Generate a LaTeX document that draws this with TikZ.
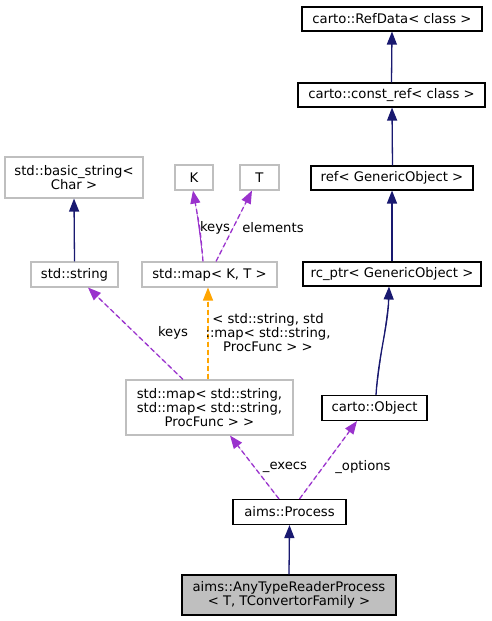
\documentclass[tikz,border=0pt]{standalone}
\usepackage{fontspec}
\setmainfont{DejaVu Sans}
\usetikzlibrary{arrows.meta}
\definecolor{navyedge}{HTML}{191970}
\definecolor{purpleedge}{HTML}{9A32CD}
\definecolor{orangeedge}{HTML}{FFA500}
\definecolor{greyborder}{HTML}{BFBFBF}
\definecolor{hlfill}{HTML}{BFBFBF}
\begin{document}
\begin{tikzpicture}[x=1pt,y=-1pt,
  font=\fontsize{13.2}{14}\selectfont,
  box/.style={draw=black,line width=1.1pt,fill=white,inner sep=0pt,align=center},
  greybox/.style={draw=greyborder,line width=1.1pt,fill=white,inner sep=0pt,align=center},
  hlbox/.style={draw=black,line width=1.1pt,fill=hlfill,inner sep=0pt,align=center},
  tip/.style={-{Triangle[length=13pt,width=10pt]}},
  inherit/.style={draw=navyedge,line width=1.3pt,tip,fill=navyedge},
  usage/.style={draw=purpleedge,line width=1.3pt,dash pattern=on 5pt off 3pt,tip,fill=purpleedge},
  templ/.style={draw=orangeedge,line width=1.3pt,dash pattern=on 5pt off 3pt,tip,fill=orangeedge},
  lbl/.style={inner sep=0pt,align=center}]
\useasboundingbox (0,0) rectangle (491,621);
\fill[white] (0,0) rectangle (491,621);

\node[box,minimum width=180pt,minimum height=24pt] (refdata) at (392,19) {carto::RefData< class >};
\node[box,minimum width=187pt,minimum height=24pt] (constref) at (391.5,95) {carto::const\_ref< class >};
\node[box,minimum width=162pt,minimum height=24pt] (refgo) at (392,178) {ref< GenericObject >};
\node[box,minimum width=178pt,minimum height=24pt] (rcptr) at (392,274) {rc\_ptr< GenericObject >};
\node[box,minimum width=105pt,minimum height=25pt] (object) at (374.5,408) {carto::Object};
\node[box,minimum width=113pt,minimum height=25pt] (process) at (289.5,512) {aims::Process};
\node[hlbox,minimum width=214pt,minimum height=40pt] (anytype) at (289,595) {aims::AnyTypeReaderProcess\\< T, TConvertorFamily >};
\node[greybox,minimum width=167pt,minimum height=55pt] (bigmap) at (209.5,407.5) {std::map< std::string,\\ std::map< std::string,\\ProcFunc > >};
\node[greybox,minimum width=87pt,minimum height=25pt] (stdstring) at (74.5,274.5) {std::string};
\node[greybox,minimum width=138pt,minimum height=41pt] (basicstr) at (74,177.5) {std::basic\_string<\\ Char >};
\node[greybox,minimum width=38pt,minimum height=25pt] (K) at (194,177.5) {K};
\node[greybox,minimum width=39pt,minimum height=25pt] (T) at (259.5,177.5) {T};
\node[greybox,minimum width=135pt,minimum height=25pt] (mapkt) at (209.5,274.5) {std::map< K, T >};

% inheritance
\draw[inherit] (constref.north) -- (refdata.south);
\draw[inherit] ([xshift=0.5pt]refgo.north) -- ([xshift=0.5pt]constref.south);
\draw[inherit] (rcptr.north) -- (refgo.south);
\draw[inherit] ([xshift=1.5pt]object.north) .. controls ([xshift=4pt,yshift=40pt]object.north) and ([xshift=-4pt,yshift=-40pt]rcptr.south) .. ([xshift=-3pt]rcptr.south);
\draw[inherit] (anytype.north) -- (process.south);
\draw[inherit] (stdstring.north) -- (basicstr.south);

% usage
\draw[usage] ([xshift=10pt]process.north) -- ([xshift=-17.5pt]object.south);
\draw[usage] ([xshift=-10.5pt]process.north) -- ([xshift=20.5pt]bigmap.south);
\draw[usage] ([xshift=-26.5pt]bigmap.north) -- ([xshift=13.5pt]stdstring.south);
\draw[usage] ([xshift=-6.5pt]mapkt.north) .. controls ([xshift=-9pt,yshift=30pt]mapkt.north) .. ([xshift=-1pt]K.south);
\draw[usage] ([xshift=6.5pt]mapkt.north) -- ([xshift=-7.5pt]T.south);

% template
\draw[templ] ([xshift=-1.5pt]bigmap.north) -- ([xshift=-1.5pt]mapkt.south);

% labels
\node[lbl] (lkeys1) at (173,333) {keys};
\node[lbl] (ltempl) at (268,333) {< std::string, std\\::map< std::string,\\ProcFunc > >};
\node[lbl] (lkeys2) at (215,228) {keys};
\node[lbl] (lelem) at (273,228) {elements};
\node[lbl] (lexecs) at (285,467) {\_execs};
\node[lbl] (loptions) at (363,467) {\_options};
\end{tikzpicture}
\end{document}
